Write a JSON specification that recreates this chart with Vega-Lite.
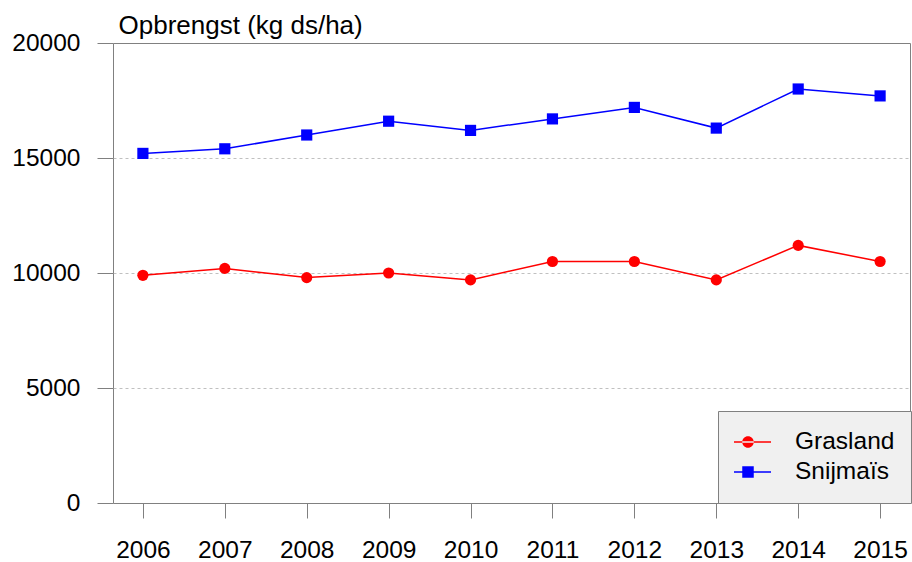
{
  "$schema": "https://vega.github.io/schema/vega-lite/v6.json",
  "width": 797,
  "height": 460,
  "autosize": {"type": "none"},
  "padding": {"left": 113, "top": 43, "right": 2, "bottom": 59},
  "background": "white",
  "config": {
    "font": "Liberation Sans",
    "view": {"stroke": "#808080", "strokeWidth": 1},
    "axis": {"labelColor": "black", "titleColor": "black", "tickColor": "#808080", "tickWidth": 1}
  },
  "resolve": {"legend": {"color": "independent", "shape": "independent"}},
  "data": {
    "values": [
      {"year": 2006, "series": "Grasland", "value": 9900},
      {"year": 2007, "series": "Grasland", "value": 10200},
      {"year": 2008, "series": "Grasland", "value": 9800},
      {"year": 2009, "series": "Grasland", "value": 10000},
      {"year": 2010, "series": "Grasland", "value": 9700},
      {"year": 2011, "series": "Grasland", "value": 10500},
      {"year": 2012, "series": "Grasland", "value": 10500},
      {"year": 2013, "series": "Grasland", "value": 9700},
      {"year": 2014, "series": "Grasland", "value": 11200},
      {"year": 2015, "series": "Grasland", "value": 10500},
      {"year": 2006, "series": "Snijmaïs", "value": 15200},
      {"year": 2007, "series": "Snijmaïs", "value": 15400},
      {"year": 2008, "series": "Snijmaïs", "value": 16000},
      {"year": 2009, "series": "Snijmaïs", "value": 16600},
      {"year": 2010, "series": "Snijmaïs", "value": 16200},
      {"year": 2011, "series": "Snijmaïs", "value": 16700},
      {"year": 2012, "series": "Snijmaïs", "value": 17200},
      {"year": 2013, "series": "Snijmaïs", "value": 16300},
      {"year": 2014, "series": "Snijmaïs", "value": 18000},
      {"year": 2015, "series": "Snijmaïs", "value": 17700}
    ]
  },
  "encoding": {
    "x": {
      "field": "year",
      "type": "ordinal",
      "scale": {"type": "point", "padding": 0.365},
      "axis": {
        "title": null,
        "domain": false,
        "grid": false,
        "labelAngle": 0,
        "tickSize": 15,
        "labelPadding": 20,
        "labelFontSize": 24.5
      }
    },
    "y": {
      "field": "value",
      "type": "quantitative",
      "scale": {"domain": [0, 20000], "nice": false},
      "axis": {
        "values": [0, 5000, 10000, 15000, 20000],
        "format": "d",
        "domain": false,
        "grid": true,
        "gridColor": "#c0c0c0",
        "gridDash": [3, 3],
        "gridWidth": 1,
        "gridOpacity": {"condition": {"test": "datum.value === 0 || datum.value === 20000", "value": 0}, "value": 1},
        "tickSize": 16,
        "labelPadding": 17,
        "labelFontSize": 24.5,
        "title": "Opbrengst (kg ds/ha)",
        "titleAngle": 0,
        "titleAlign": "left",
        "titleBaseline": "alphabetic",
        "titleX": 5,
        "titleY": -10,
        "titleFontSize": 26,
        "titleFontWeight": "normal"
      }
    }
  },
  "layer": [
    {
      "mark": {"type": "line", "strokeWidth": 1.5},
      "encoding": {
        "color": {
          "field": "series",
          "type": "nominal",
          "scale": {"domain": ["Grasland", "Snijmaïs"], "range": ["#ff0000", "#0000ff"]},
          "legend": null
        }
      }
    },
    {
      "mark": {"type": "point", "filled": true, "opacity": 1, "size": 125},
      "encoding": {
        "color": {
          "field": "series",
          "type": "nominal",
          "scale": {"domain": ["Grasland", "Snijmaïs"], "range": ["#ff0000", "#0000ff"]},
          "legend": null
        },
        "shape": {"condition": {"test": "datum.series === 'Grasland'", "value": "circle"}, "value": "square"}
      }
    },
    {
      "mark": {"type": "point", "filled": true, "size": 0, "strokeWidth": 0},
      "encoding": {
        "color": {
          "field": "series",
          "type": "nominal",
          "scale": {"domain": ["Grasland", "Snijmaïs"], "range": ["#ff0000", "#0000ff"]},
          "legend": {"title": null, "orient": "none", "legendX": 605, "legendY": 368, "padding": 16, "fillColor": "#f0f0f0", "strokeColor": "#808080", "symbolSize": 2116, "symbolStrokeWidth": 0, "symbolOffset": -9, "labelOffset": 24, "labelFontSize": 24.5, "labelColor": "black", "clipHeight": 30, "rowPadding": 0, "symbolOpacity": 1}
        },
        "shape": {
          "field": "series",
          "type": "nominal",
          "scale": {
            "domain": ["Grasland", "Snijmaïs"],
            "range": [
              "M-1,-0.033L1,-0.033L1,0.033L-1,0.033ZM-0.25,0A0.25,0.25,0,1,0,0.25,0A0.25,0.25,0,1,0,-0.25,0Z",
              "M-1,-0.033L1,-0.033L1,0.033L-1,0.033ZM-0.25,-0.25L0.25,-0.25L0.25,0.25L-0.25,0.25Z"
            ]
          },
          "legend": {"title": null, "orient": "none", "legendX": 605, "legendY": 368, "padding": 16, "fillColor": "#f0f0f0", "strokeColor": "#808080", "symbolSize": 2116, "symbolStrokeWidth": 0, "symbolOffset": -9, "labelOffset": 24, "labelFontSize": 24.5, "labelColor": "black", "clipHeight": 30, "rowPadding": 0, "symbolOpacity": 1}
        }
      }
    }
  ]
}
